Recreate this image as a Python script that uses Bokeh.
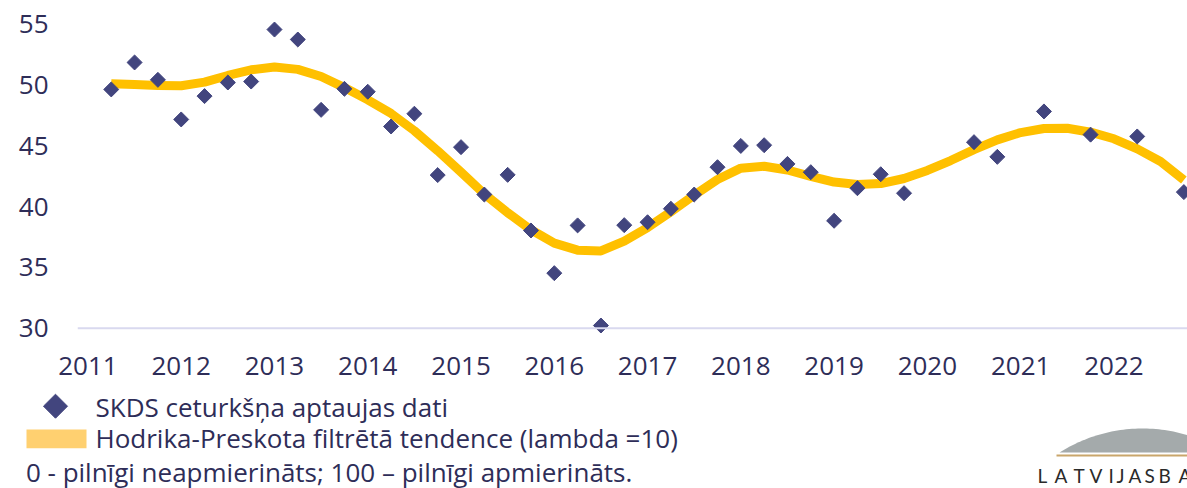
import math
import numpy as np
from bokeh.plotting import figure
from bokeh.models import Range1d, FixedTicker, Span, ColumnDataSource
from bokeh.layouts import column
from bokeh.core.properties import value
from bokeh.embed import file_html
from bokeh.resources import INLINE

# ---------------- data ----------------
quarters = [
    "2011Q2", "2011Q3", "2011Q4",
    "2012Q1", "2012Q2", "2012Q3", "2012Q4",
    "2013Q1", "2013Q2", "2013Q3", "2013Q4",
    "2014Q1", "2014Q2", "2014Q3", "2014Q4",
    "2015Q1", "2015Q2", "2015Q3", "2015Q4",
    "2016Q1", "2016Q2", "2016Q3", "2016Q4",
    "2017Q1", "2017Q2", "2017Q3", "2017Q4",
    "2018Q1", "2018Q2", "2018Q3", "2018Q4",
    "2019Q1", "2019Q2", "2019Q3", "2019Q4",
    "2020Q1", "2020Q2", "2020Q3", "2020Q4",
    "2021Q1", "2021Q2", "2021Q3", "2021Q4",
    "2022Q1", "2022Q2", "2022Q3", "2022Q4",
]

survey = [
    49.65, 51.87, 50.44,
    47.18, 49.10, 50.22, 50.30,
    54.58, 53.76, 47.97, 49.70,
    49.46, 46.60, 47.65, 42.60,
    44.90, 41.00, 42.62, 38.04,
    34.53, 38.46, 30.22, 38.48,
    38.72, 39.83, 41.00, 43.25,
    45.00, 45.06, 43.52, 42.84,
    38.84, 41.52, 42.67, 41.11,
    None, None, 45.31, 44.10,
    None, 47.84, None, 45.93,
    None, 45.78, None, 41.20,
]

trend = [
    50.12, 50.05, 49.98,
    49.95, 50.25, 50.80, 51.27,
    51.50, 51.30, 50.72, 49.80,
    48.80, 47.67, 46.25, 44.60,
    42.85, 41.05, 39.50, 38.10,
    37.00, 36.42, 36.36, 37.16,
    38.28, 39.58, 40.95, 42.24,
    43.17, 43.33, 43.02, 42.50,
    42.03, 41.83, 41.90, 42.32,
    42.98, 43.80, 44.70, 45.50,
    46.10, 46.43, 46.46, 46.13,
    45.59, 44.76, 43.72, 42.20,
]

year_ticks = [2011, 2012, 2013, 2014, 2015, 2016, 2017, 2018, 2019, 2020, 2021, 2022]
year_labels = ["2011", "2012", "2013", "2014", "2015", "2016",
               "2017", "2018", "2019", "2020", "2021", "2022"]
y_ticks = [30, 35, 40, 45, 50, 55]

legend_labels = ["SKDS ceturkšņa aptaujas dati",
                 "Hodrika-Preskota filtrētā tendence (lambda =10)"]
note_text = "0 - pilnīgi neapmierināts; 100 – pilnīgi apmierināts."
logo_chars = ["L", "A", "T", "V", "I", "J", "A", "S", "B", "A"]

# ---------------- styles ----------------
TEXT = "#2E2D58"
MARK = "#42457E"
LINE = "#FFC000"
SWATCH = "#FFD070"
GRID = "#D9D9EF"
FONT = "Open Sans"

def qx(q):
    yr, qq = q.split("Q")
    return int(yr) + (int(qq) - 1) / 4.0

xs = [qx(q) for q in quarters]
src = ColumnDataSource(dict(
    x=xs,
    survey=np.array(survey, dtype=float),
    trend=np.array(trend, dtype=float),
))

W = 1187
H1 = 386
H2 = 102

p = figure(width=W, height=H1, output_backend="svg", toolbar_location=None,
           x_range=Range1d(2010.888, 2022.789), y_range=Range1d(29.48, 56.97),
           min_border_left=77, min_border_right=0, min_border_top=0,
           min_border_bottom=52, frame_align=False)
p.outline_line_color = None
p.xgrid.visible = False
p.ygrid.visible = False
p.background_fill_color = "white"
p.border_fill_color = "white"

p.add_layout(Span(location=30, dimension="width", line_color=GRID, line_width=2))

p.line("x", "trend", source=src, line_color=LINE, line_width=9, line_join="round")
p.scatter("x", "survey", source=src, marker="square", angle=math.pi / 4,
          size=10.6, fill_color=MARK, line_color=MARK)

xa = p.xaxis[0]
xa.ticker = FixedTicker(ticks=year_ticks)
xa.major_label_overrides = {t: l for t, l in zip(year_ticks, year_labels)}
ya = p.yaxis[0]
ya.ticker = FixedTicker(ticks=y_ticks)
for ax in (xa, ya):
    ax.axis_line_color = None
    ax.major_tick_line_color = None
    ax.minor_tick_line_color = None
    ax.major_tick_in = 0
    ax.major_tick_out = 0
    ax.major_label_text_font = FONT
    ax.major_label_text_font_size = "26px"
    ax.major_label_text_color = TEXT
xa.major_label_standoff = 22
ya.major_label_standoff = 29

# ---------------- legend / note / logo panel ----------------
q = figure(width=W, height=H2, output_backend="svg", toolbar_location=None,
           x_range=Range1d(0, W), y_range=Range1d(H2, 0),
           x_axis_type=None, y_axis_type=None, frame_align=False,
           min_border_left=0, min_border_right=0, min_border_top=0, min_border_bottom=0)
q.outline_line_color = None
q.xgrid.visible = False
q.ygrid.visible = False
q.background_fill_color = "white"
q.border_fill_color = "white"

# legend keys
q.scatter(x=[55], y=[19.7], marker="square", angle=math.pi / 4, size=17,
          fill_color=MARK, line_color=MARK)
q.quad(left=[26], right=[86], top=[43], bottom=[61.7], fill_color=SWATCH, line_color=None)
q.text(x=[95, 95], y=[20, 51.7], text=legend_labels,
       text_font=value(FONT), text_font_size="26px", text_color=TEXT,
       text_baseline="alphabetic", text_align="left")
q.text(x=[25.4], y=[85.0], text=[note_text],
       text_font=value(FONT), text_font_size="26px", text_color=TEXT,
       text_baseline="alphabetic", text_align="left")

# logo (letter-spaced, cropped at the right edge like the reference)
R = 155.5
cx, cy = 1142.0, 66.0 + (R - 24.0)
t0 = math.asin(83.0 / R)
ts = np.linspace(-t0, t0, 60)
q.patch(x=cx + R * np.sin(ts), y=cy - R * np.cos(ts), fill_color="#A4AAAB", line_color=None)
q.segment(x0=[1056], y0=[69], x1=[W], y1=[69], line_color="#C9A66B", line_width=2)
logo_x = [1037, 1054, 1073, 1089, 1108, 1116, 1128, 1144, 1158, 1178]
q.text(x=logo_x, y=[89] * len(logo_chars), text=logo_chars, text_font=value("Lato"),
       text_font_size="19px", text_color="#2A2A2A", text_baseline="alphabetic")

layout = column(p, q, spacing=0)
open("out.html", "w").write(file_html(layout, INLINE))
